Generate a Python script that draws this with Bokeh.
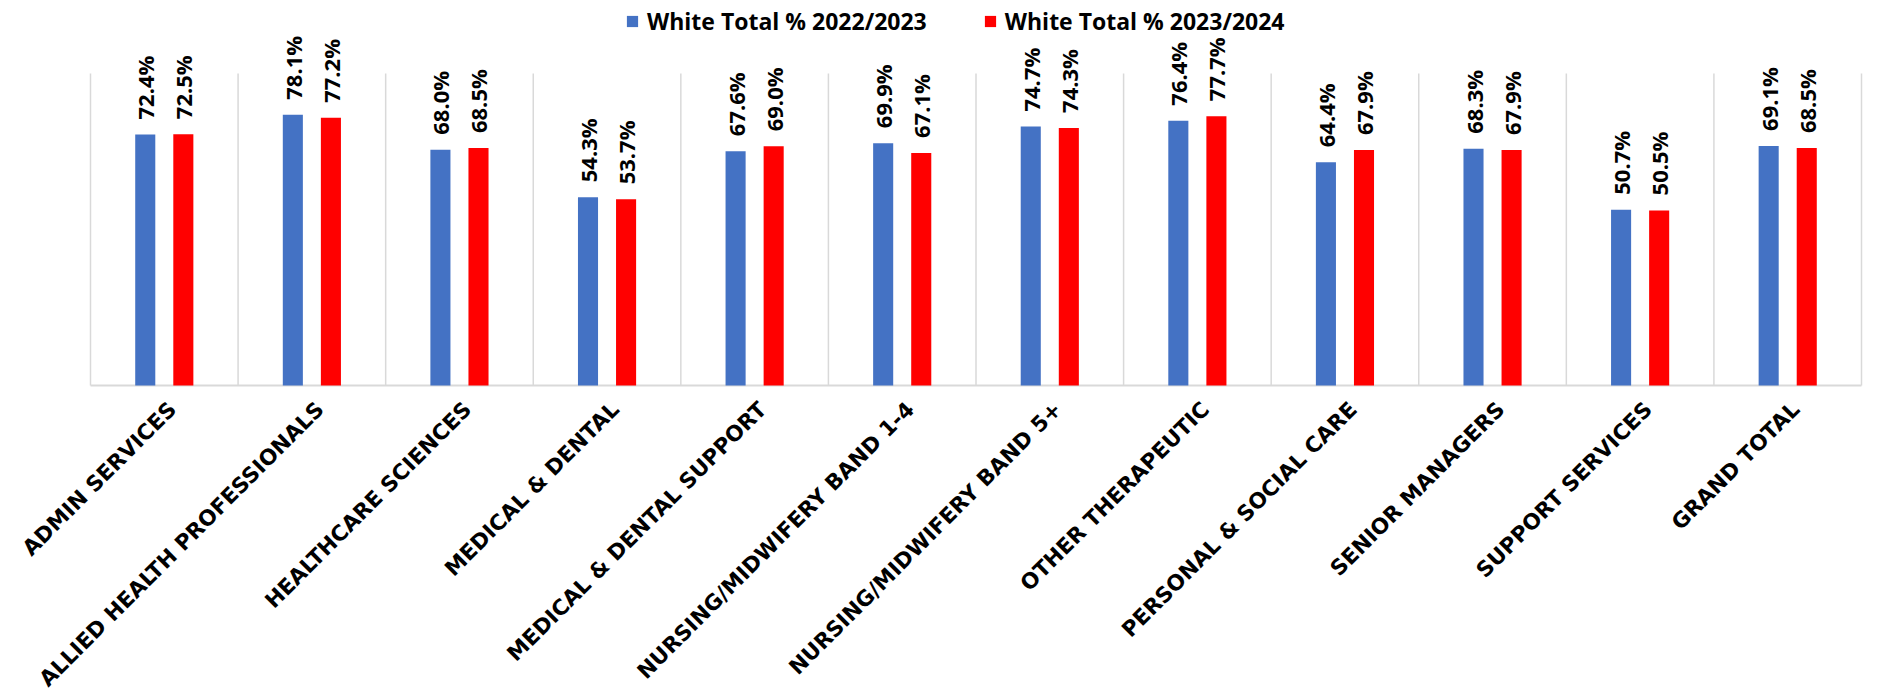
import math
from bokeh.plotting import figure
from bokeh.models import ColumnDataSource, Range1d, Legend, LegendItem
from bokeh.core.properties import value
from bokeh.embed import file_html
from bokeh.resources import INLINE

categories = ["ADMIN SERVICES", "ALLIED HEALTH PROFESSIONALS", "HEALTHCARE SCIENCES",
              "MEDICAL & DENTAL", "MEDICAL & DENTAL SUPPORT", "NURSING/MIDWIFERY BAND 1-4",
              "NURSING/MIDWIFERY BAND 5+", "OTHER THERAPEUTIC", "PERSONAL & SOCIAL CARE",
              "SENIOR MANAGERS", "SUPPORT SERVICES", "GRAND TOTAL"]
white_2022_23 = [72.4, 78.1, 68.0, 54.3, 67.6, 69.9, 74.7, 76.4, 64.4, 68.3, 50.7, 69.1]
white_2023_24 = [72.5, 77.2, 68.5, 53.7, 69.0, 67.1, 74.3, 77.7, 67.9, 67.9, 50.5, 68.5]
series_names = ["White Total % 2022/2023", "White Total % 2023/2024"]
colors = ["#4472C4", "#FF0000"]
y_max = 90

# ---- layout (pixels) ----
W, H = 1885, 699
plot_left, plot_right, plot_top, plot_bottom = 90, 1861, 73, 385

n = len(categories)
px_per_x = (plot_right - plot_left) / n
px_per_y = (plot_bottom - plot_top) / y_max
x_range = Range1d(-plot_left / px_per_x, n + (W - plot_right) / px_per_x)
y_range = Range1d(-(H - plot_bottom) / px_per_y, y_max + plot_top / px_per_y)

centers = [i + 0.5 for i in range(n)]
bounds = list(range(n + 1))
bar_w = 0.136
off = 0.129

src1 = ColumnDataSource(dict(x=[c - off for c in centers], top=white_2022_23,
                             lab=[f"{v:.1f}%" for v in white_2022_23]))
src2 = ColumnDataSource(dict(x=[c + off for c in centers], top=white_2023_24,
                             lab=[f"{v:.1f}%" for v in white_2023_24]))
cat_src = ColumnDataSource(dict(x=centers, y=[0] * n, lab=categories))
grid_src = ColumnDataSource(dict(x=bounds, y0=[0] * len(bounds), y1=[y_max] * len(bounds)))

p = figure(width=W, height=H, output_backend="svg", toolbar_location=None,
           x_range=x_range, y_range=y_range,
           min_border_left=0, min_border_right=0, min_border_top=0, min_border_bottom=0)
p.outline_line_color = None
p.axis.visible = False
p.grid.grid_line_color = None

# vertical category separators and axis line
p.segment(x0="x", x1="x", y0="y0", y1="y1", source=grid_src, line_color="#D9D9D9", line_width=1.5)
p.segment(x0=[0], x1=[n], y0=[0], y1=[0], line_color="#D9D9D9", line_width=2)

r1 = p.vbar(x="x", top="top", width=bar_w, bottom=0, source=src1, fill_color=colors[0], line_color=None)
r2 = p.vbar(x="x", top="top", width=bar_w, bottom=0, source=src2, fill_color=colors[1], line_color=None)

for s in (src1, src2):
    p.text(x="x", y="top", text="lab", source=s, angle=math.pi / 2, text_align="left",
           text_baseline="middle", y_offset=-15, text_font=value("Open Sans"),
           text_font_style="bold", text_font_size=value("22px"), text_color="black")

# category labels, rotated 45 degrees
p.text(x="x", y="y", text="lab", source=cat_src, angle=math.pi / 4, text_align="right",
       text_baseline="middle", x_offset=8, y_offset=20, text_font=value("DejaVu Sans"),
       text_font_style="bold", text_font_size=value("21.5px"), text_color="black")

legend = Legend(items=[LegendItem(label=series_names[0], renderers=[r1]),
                       LegendItem(label=series_names[1], renderers=[r2])],
                orientation="horizontal", location=(625, H - 37),
                glyph_width=14, glyph_height=14, label_standoff=8, spacing=56,
                padding=0, margin=0, border_line_color=None, background_fill_alpha=0,
                label_text_font="Open Sans", label_text_font_style="bold",
                label_text_font_size="23px", label_text_color="black")
p.add_layout(legend, "center")

open("out.html", "w").write(file_html(p, INLINE))
